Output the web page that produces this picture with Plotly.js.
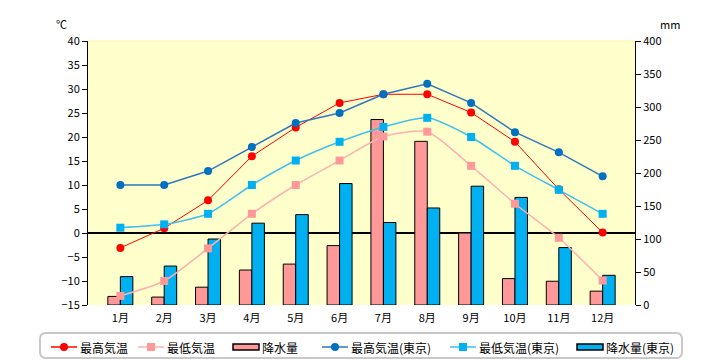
<!DOCTYPE html>
<html><head><meta charset="utf-8">
<script src="https://cdn.plot.ly/plotly-3.0.1.min.js"></script>
<style>html,body{margin:0;padding:0;background:#fff}#chart{width:720px;height:360px}</style>
</head><body><div id="chart"></div>
<script>
const months = ['1月','2月','3月','4月','5月','6月','7月','8月','9月','10月','11月','12月'];
const maxTemp = [-3.1, 1.0, 6.8, 16.0, 22.0, 27.1, 28.9, 28.9, 25.1, 19.0, 9.1, 0.1];
const minTemp = [-13.1, -10.0, -3.2, 4.0, 10.0, 15.1, 20.1, 21.1, 14.0, 6.1, -1.0, -9.9];
const precip = [13, 12, 27, 53, 62, 90, 281, 248, 109, 40, 36, 21];
const tokyoMax = [10.0, 10.0, 12.9, 17.9, 22.9, 25.0, 28.9, 31.1, 27.1, 21.0, 16.8, 11.8];
const tokyoMin = [1.1, 1.8, 4.0, 10.0, 15.1, 19.0, 22.1, 24.0, 20.0, 14.0, 9.0, 4.0];
const tokyoPrecip = [43, 59, 100, 124, 137, 184, 125, 147, 180, 163, 87, 45];
const seriesNames = ['最高気温','最低気温','降水量','最高気温(東京)','最低気温(東京)','降水量(東京)'];

const F = '"Noto Sans CJK JP", "Noto Sans", sans-serif';
const C = {red:'#ff0000', pinkM:'#ff9999', pinkL:'#ffb0b0', blueM:'#0070c0', blueL:'#2e78bd', cyanM:'#00b0f0', cyanL:'#40c0ee'};
const traces = [
  {type:'bar', x:months, y:precip, name:seriesNames[2], yaxis:'y',
   marker:{color:C.pinkM, line:{color:'#000', width:1}}},
  {type:'bar', x:months, y:tokyoPrecip, name:seriesNames[5], yaxis:'y',
   marker:{color:C.cyanM, line:{color:'#000', width:1}}},
  {type:'scatter', mode:'lines+markers', x:months, y:maxTemp, name:seriesNames[0], yaxis:'y2',
   line:{color:C.red, width:1}, marker:{color:C.red, size:8, symbol:'circle'}},
  {type:'scatter', mode:'lines+markers', x:months, y:minTemp, name:seriesNames[1], yaxis:'y2',
   line:{color:C.pinkL, width:1.5, shape:'spline', smoothing:0.6}, marker:{color:C.pinkM, size:8, symbol:'square'}},
  {type:'scatter', mode:'lines+markers', x:months, y:tokyoMax, name:seriesNames[3], yaxis:'y2',
   line:{color:C.blueL, width:1.5}, marker:{color:C.blueM, size:8, symbol:'circle'}},
  {type:'scatter', mode:'lines+markers', x:months, y:tokyoMin, name:seriesNames[4], yaxis:'y2',
   line:{color:C.cyanL, width:1.5, shape:'spline', smoothing:0.6}, marker:{color:C.cyanM, size:8, symbol:'square'}}
];

const px2x = p => (p-88)/547, px2y = p => (305-p)/264;
function roundRect(x0,y0,x1,y1,r){
  const X=px2x, Y=px2y;
  return `M ${X(x0+r)} ${Y(y0)} L ${X(x1-r)} ${Y(y0)} Q ${X(x1)} ${Y(y0)} ${X(x1)} ${Y(y0+r)} L ${X(x1)} ${Y(y1-r)} Q ${X(x1)} ${Y(y1)} ${X(x1-r)} ${Y(y1)} L ${X(x0+r)} ${Y(y1)} Q ${X(x0)} ${Y(y1)} ${X(x0)} ${Y(y1-r)} L ${X(x0)} ${Y(y0+r)} Q ${X(x0)} ${Y(y0)} ${X(x0+r)} ${Y(y0)} Z`;
}

// manual legend (pixel layout)
const LY = 347;
const legendItems = [
  {kind:'line', sym:'circle', x:51, line:C.red, mark:C.red, name:seriesNames[0]},
  {kind:'line', sym:'square', x:138, line:C.pinkL, mark:C.pinkM, name:seriesNames[1]},
  {kind:'bar', x:233, fill:C.pinkM, name:seriesNames[2]},
  {kind:'line', sym:'circle', x:322, line:C.blueL, mark:C.blueM, name:seriesNames[3]},
  {kind:'line', sym:'square', x:450, line:C.cyanL, mark:C.cyanM, name:seriesNames[4]},
  {kind:'bar', x:577, fill:C.cyanM, name:seriesNames[5]}
];
const shapes = [
  {type:'line', xref:'paper', yref:'paper', x0:0, x1:1, y0:1, y1:1, line:{color:'#fff0a0', width:1}},
  {type:'path', xref:'paper', yref:'paper', path:roundRect(40,333,682,358,6), line:{color:'#c8c8c8', width:2}, fillcolor:'rgba(0,0,0,0)'}
];
const annotations = [
  {text:'℃', xref:'paper', yref:'paper', x:px2x(61), y:px2y(24), xanchor:'center', yanchor:'middle', showarrow:false, font:{family:F, size:11}},
  {text:'mm', xref:'paper', yref:'paper', x:px2x(670), y:px2y(24), xanchor:'center', yanchor:'middle', showarrow:false, font:{family:F, size:11}}
];
legendItems.forEach(it => {
  const x0 = it.x, x1 = it.x + 26;
  if (it.kind === 'line') {
    shapes.push({type:'line', xref:'paper', yref:'paper', x0:px2x(x0), x1:px2x(x1), y0:px2y(LY), y1:px2y(LY), line:{color:it.line, width:1.5}});
    const cx = (x0+x1)/2;
    shapes.push({type: it.sym === 'circle' ? 'circle' : 'rect', xref:'paper', yref:'paper',
      x0:px2x(cx-4), x1:px2x(cx+4), y0:px2y(LY+4), y1:px2y(LY-4), fillcolor:it.mark, line:{width:0}});
  } else {
    shapes.push({type:'rect', xref:'paper', yref:'paper', x0:px2x(x0), x1:px2x(x1), y0:px2y(LY+3), y1:px2y(LY-3),
      fillcolor:it.fill, line:{color:'#000', width:1.5}});
  }
  annotations.push({text:it.name, xref:'paper', yref:'paper', x:px2x(x1+1), y:px2y(LY), xanchor:'left', yanchor:'middle',
    showarrow:false, font:{family:F, size:12}});
});

const layout = {
  width:720, height:360,
  margin:{l:88, r:85, t:41, b:55, autoexpand:false},
  paper_bgcolor:'#ffffff', plot_bgcolor:'#ffffcc',
  font:{family:F, size:11, color:'#000'},
  showlegend:false,
  barmode:'group', bargap:0.43, bargroupgap:0,
  xaxis:{type:'category', showline:false, ticks:'outside', ticklen:3, tickcolor:'rgba(0,0,0,0)', showgrid:false, zeroline:false,
         tickfont:{family:F, size:11}},
  yaxis:{side:'right', range:[0,400], dtick:50, showline:true, linecolor:'#000', linewidth:1,
         ticks:'outside', ticklen:5, tickcolor:'#000', showgrid:false, zeroline:false,
         tickfont:{family:F, size:11}},
  yaxis2:{overlaying:'y', side:'left', range:[-15,40], dtick:5, showline:true, linecolor:'#000', linewidth:1,
          ticks:'outside', ticklen:5, tickcolor:'#000', showgrid:false,
          zeroline:true, zerolinecolor:'#000', zerolinewidth:1.3,
          tickfont:{family:F, size:11}},
  annotations: annotations,
  shapes: shapes
};
Plotly.newPlot('chart', traces, layout, {staticPlot:true});
</script></body></html>
